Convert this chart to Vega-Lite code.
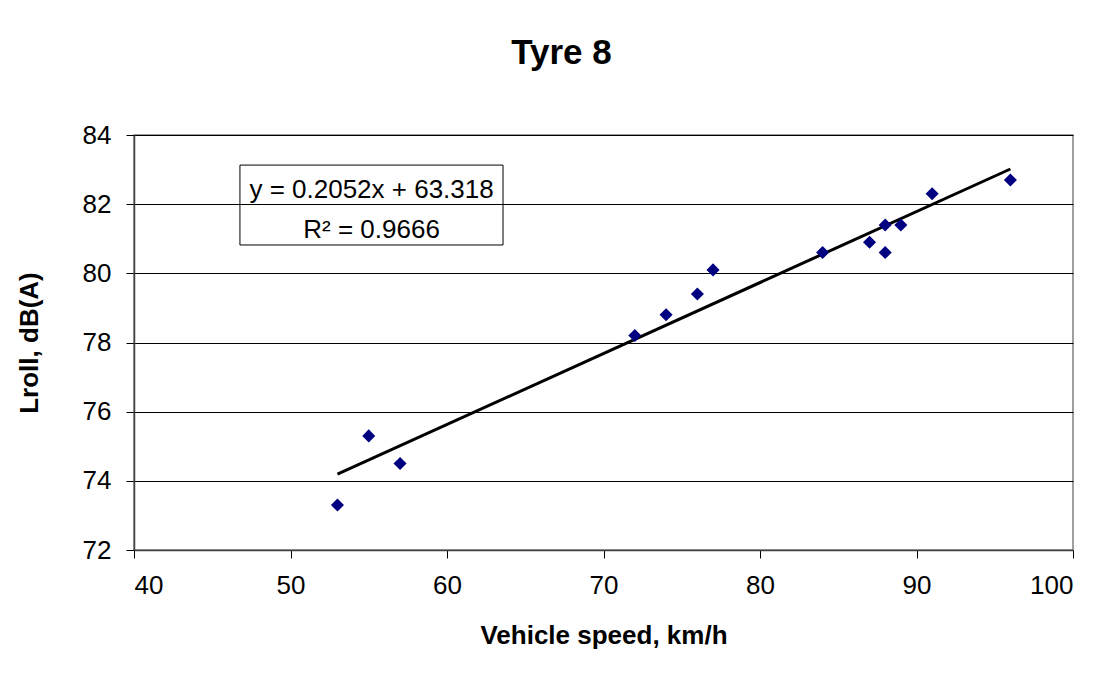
{
  "$schema": "https://vega.github.io/schema/vega-lite/v6.json",
  "autosize": {"type": "none"},
  "padding": {"left": 134, "top": 135, "right": 34, "bottom": 127},
  "width": 939,
  "height": 415,
  "background": "white",
  "config": {
    "font": "Liberation Sans",
    "view": {"stroke": "#808080", "strokeWidth": 1.5}
  },
  "title": {
    "text": "Tyre 8",
    "fontSize": 35,
    "fontWeight": "bold",
    "font": "Liberation Sans",
    "color": "black",
    "offset": 51,
    "dx": -42
  },
  "data": {
    "values": [
      {"speed": 53, "lroll": 73.3},
      {"speed": 55, "lroll": 75.3},
      {"speed": 57, "lroll": 74.5},
      {"speed": 72, "lroll": 78.2},
      {"speed": 74, "lroll": 78.8},
      {"speed": 76, "lroll": 79.4},
      {"speed": 77, "lroll": 80.1},
      {"speed": 84, "lroll": 80.6},
      {"speed": 87, "lroll": 80.9},
      {"speed": 88, "lroll": 81.4},
      {"speed": 88, "lroll": 80.6},
      {"speed": 89, "lroll": 81.4},
      {"speed": 91, "lroll": 82.3},
      {"speed": 96, "lroll": 82.7}
    ]
  },
  "encoding": {
    "x": {
      "field": "speed",
      "type": "quantitative",
      "scale": {"domain": [40, 100], "nice": false, "zero": false},
      "axis": {
        "title": "Vehicle speed, km/h",
        "values": [40, 50, 60, 70, 80, 90, 100],
        "grid": false,
        "domainColor": "#404040",
        "domainWidth": 1.5,
        "tickColor": "black",
        "tickSize": 8,
        "labelFontSize": 26,
        "labelColor": "black",
        "labelPadding": 14,
        "titleFontSize": 26,
        "titleFontWeight": "bold",
        "titleColor": "black",
        "titlePadding": 24
      }
    },
    "y": {
      "field": "lroll",
      "type": "quantitative",
      "scale": {"domain": [72, 84], "nice": false, "zero": false},
      "axis": {
        "title": "Lroll, dB(A)",
        "values": [72, 74, 76, 78, 80, 82, 84],
        "grid": true,
        "gridColor": "black",
        "gridWidth": 1,
        "gridOpacity": 1,
        "domainColor": "#404040",
        "domainWidth": 1.5,
        "tickColor": "black",
        "tickSize": 8,
        "labelFontSize": 26,
        "labelColor": "black",
        "labelPadding": 15,
        "titleFontSize": 26,
        "titleFontWeight": "bold",
        "titleColor": "black",
        "titlePadding": 40
      }
    }
  },
  "layer": [
    {
      "mark": {"type": "line", "color": "black", "strokeWidth": 3},
      "transform": [{"regression": "lroll", "on": "speed"}]
    },
    {
      "mark": {"type": "point", "shape": "diamond", "filled": true, "color": "#000080", "size": 170, "opacity": 1}
    },
    {
      "data": {"values": [{"x1": 46.77, "x2": 63.58, "y1": 83.13, "y2": 80.82}]},
      "mark": {"type": "rect", "fill": "white", "fillOpacity": 0, "stroke": "black", "strokeWidth": 1},
      "encoding": {
        "x": {"field": "x1", "type": "quantitative"},
        "x2": {"field": "x2"},
        "y": {"field": "y1", "type": "quantitative"},
        "y2": {"field": "y2"}
      }
    },
    {
      "data": {"values": [{"label": "y = 0.2052x + 63.318", "lx": 55.18, "ly": 82.41}, {"label": "R² = 0.9666", "lx": 55.18, "ly": 81.25}]},
      "mark": {"type": "text", "fontSize": 26, "color": "black", "align": "center", "baseline": "middle", "font": "Liberation Sans"},
      "encoding": {
        "x": {"field": "lx", "type": "quantitative"},
        "y": {"field": "ly", "type": "quantitative"},
        "text": {"field": "label"}
      }
    }
  ]
}
